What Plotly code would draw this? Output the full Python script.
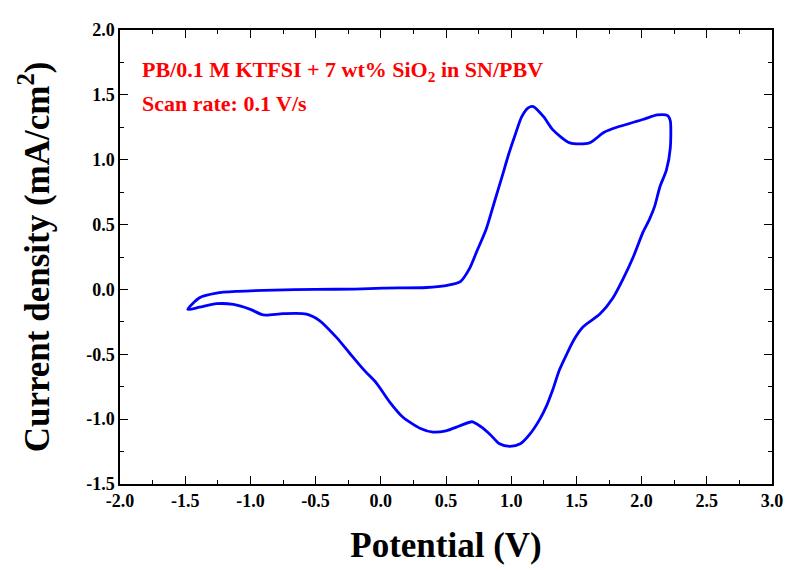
import plotly.graph_objects as go

# Cyclic voltammogram (forward scan then reverse scan)
potential_v = [
    -1.48, -1.39, -1.26, -1.10, -0.82, -0.50, -0.20, 0.02, 0.35, 0.50, 0.61, 0.68,
    0.735, 0.81, 0.87, 0.93, 0.98, 1.03, 1.08, 1.13, 1.17, 1.25, 1.32, 1.45, 1.60,
    1.71, 1.81, 2.01, 2.12, 2.20, 2.22,
    2.22, 2.19, 2.14, 2.10, 2.06, 2.01, 1.94, 1.86, 1.78, 1.68, 1.55, 1.48, 1.43,
    1.37, 1.32, 1.27, 1.22, 1.14, 1.07, 0.99, 0.91, 0.84, 0.77, 0.70, 0.61, 0.50,
    0.40, 0.30, 0.17, 0.07, -0.035, -0.13, -0.24, -0.34, -0.47, -0.57, -0.75,
    -0.90, -1.00, -1.13, -1.26, -1.39, -1.48,
]
current_density = [
    -0.154, -0.064, -0.028, -0.015, -0.005, 0.000, 0.003, 0.01, 0.015, 0.03, 0.06, 0.16,
    0.29, 0.47, 0.67, 0.87, 1.04, 1.19, 1.33, 1.40, 1.41, 1.33, 1.23, 1.13, 1.13,
    1.21, 1.25, 1.31, 1.345, 1.34, 1.30,
    1.09, 0.92, 0.79, 0.64, 0.54, 0.44, 0.26, 0.085, -0.066, -0.19, -0.29, -0.39,
    -0.49, -0.62, -0.77, -0.90, -1.00, -1.12, -1.19, -1.21, -1.19, -1.12, -1.06,
    -1.02, -1.05, -1.09, -1.10, -1.07, -0.985, -0.87, -0.72, -0.62, -0.49, -0.37,
    -0.24, -0.19, -0.187, -0.197, -0.154, -0.116, -0.11, -0.137, -0.154,
]

x_ticks = [-2.0, -1.5, -1.0, -0.5, 0.0, 0.5, 1.0, 1.5, 2.0, 2.5, 3.0]
y_ticks = [-1.5, -1.0, -0.5, 0.0, 0.5, 1.0, 1.5, 2.0]

serif = "Liberation Serif, Times New Roman, serif"

fig = go.Figure()
fig.add_trace(go.Scatter(
    x=potential_v, y=current_density, mode="lines",
    line=dict(color="#0000ff", width=2.8, shape="spline", smoothing=0.7),
    showlegend=False, hoverinfo="skip",
))

axis_common = dict(
    showgrid=False, zeroline=False, showline=True, linecolor="black", linewidth=1.5,
    mirror="ticks", ticks="inside", ticklen=8, tickwidth=1.3, tickcolor="black",
    tickfont=dict(family=serif, size=18, color="black", weight="bold"),
    minor=dict(ticks="inside", ticklen=4, tickwidth=1.2, tickcolor="black"),
)

fig.update_xaxes(
    range=[-2.0, 3.0], tickvals=x_ticks, ticktext=[f"{v:.1f}" for v in x_ticks],
    minor_dtick=0.25,
    title=dict(text="Potential (V)", font=dict(family=serif, size=35, color="black", weight="bold"), standoff=22),
    **axis_common,
)
fig.update_yaxes(
    range=[-1.5, 2.0], tickvals=y_ticks, ticktext=[f"{v:.1f}" for v in y_ticks],
    minor_dtick=0.25,
    title=dict(text="Current density (mA/cm<sup>2</sup>)", font=dict(family=serif, size=35, color="black", weight="bold"), standoff=26),
    **axis_common,
)

fig.add_annotation(
    xref="paper", yref="paper", x=0.031, y=0.909, xanchor="left", yanchor="middle",
    text="PB/0.1 M KTFSI + 7 wt% SiO<sub>2</sub> in SN/PBV", showarrow=False,
    font=dict(family=serif, size=22, color="#ff0000", weight="bold"),
)
fig.add_annotation(
    xref="paper", yref="paper", x=0.031, y=0.838, xanchor="left", yanchor="middle",
    text="Scan rate: 0.1 V/s", showarrow=False,
    font=dict(family=serif, size=22, color="#ff0000", weight="bold"),
)

fig.update_layout(
    width=792, height=572,
    margin=dict(l=112, r=28, t=12, b=96),
    paper_bgcolor="white", plot_bgcolor="white",
)

fig.write_html("out.html")
